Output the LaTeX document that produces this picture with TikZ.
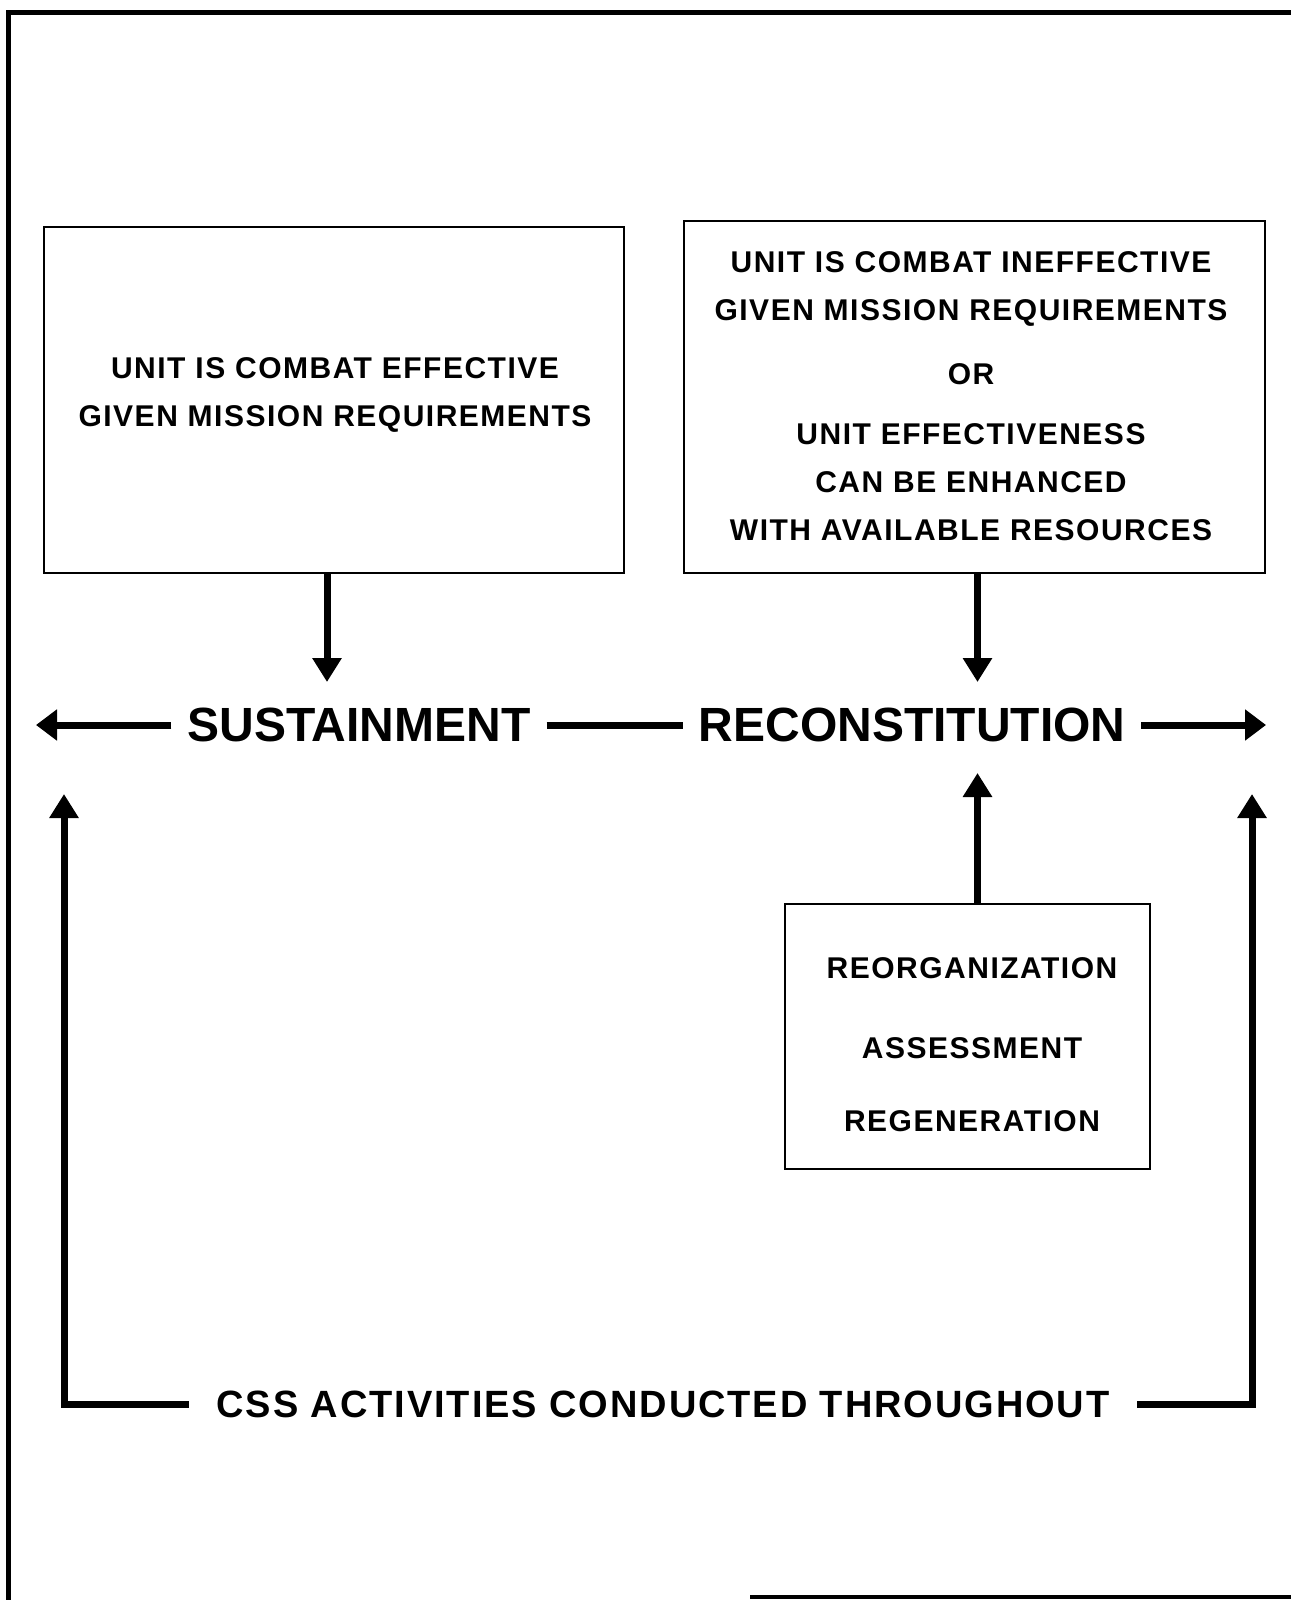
\documentclass[tikz,border=0pt]{standalone}
\usepackage{fontspec}
\setmainfont{Liberation Sans}
\newfontfamily\boxfont[LetterSpace=5]{Liberation Sans}
\usetikzlibrary{arrows.meta}

\tikzset{
  box/.style={draw, line width=2pt, inner sep=0pt, outer sep=0pt},
  boxtext/.style={font=\boxfont\bfseries\fontsize{30}{48}\selectfont, align=center, inner sep=0pt},
  bigword/.style={font=\bfseries\fontsize{48}{56}\selectfont, inner xsep=16pt, inner ysep=0pt, outer sep=0pt},
  csstext/.style={font=\boxfont\bfseries\fontsize{38}{44}\selectfont, inner xsep=28pt, inner ysep=0pt, outer sep=0pt},
  fat/.style={line width=7pt},
  fatarrow/.style={fat, -{Triangle[length=24pt,width=28pt]}}
}

\begin{document}
\begin{tikzpicture}[x=1pt,y=-1pt]
\useasboundingbox (0,0) rectangle (1291,1600);

% frame
\draw[line width=5pt] (8,1600)--(8,13)--(1291,13);
\draw[line width=4pt] (750,1597)--(1291,1597);

% boxes
\node[box, minimum width=580pt, minimum height=346pt] (effbox) at (334,400) {};
\node[boxtext] (efftext) at (335,395) {UNIT IS COMBAT EFFECTIVE\\GIVEN MISSION REQUIREMENTS};

\node[box, minimum width=581pt, minimum height=352pt] (inbox) at (974.5,397) {};
\node[boxtext] (intext) at (971,396) {UNIT IS COMBAT INEFFECTIVE\\GIVEN MISSION REQUIREMENTS\\[16pt]OR\\[12pt]UNIT EFFECTIVENESS\\CAN BE ENHANCED\\WITH AVAILABLE RESOURCES};

\node[box, minimum width=365pt, minimum height=265pt] (regbox) at (967.5,1036.5) {};
\node[boxtext] (regtext) at (972,1045) {REORGANIZATION\\[32pt]ASSESSMENT\\[25pt]REGENERATION};

% main line
\node[bigword] (sust) at (359,725) {SUSTAINMENT};
\node[bigword] (recon) at (912,725) {RECONSTITUTION};
\coordinate (leftend) at (36,725);
\coordinate (rightend) at (1266,725);

\draw[fat, -{Triangle[length=21pt,width=30pt]}] (sust.west)--(leftend);
\draw[fat] (sust.east)--(recon.west);
\draw[fat, -{Triangle[length=21pt,width=30pt]}] (recon.east)--(rightend);

% arrows into the line
\draw[fatarrow, shorten >=26pt] ([xshift=-7pt]effbox.south)--([xshift=-7pt]effbox.south |- sust.north);
\draw[fatarrow, shorten >=26pt] ([xshift=3pt]inbox.south)--([xshift=3pt]inbox.south |- recon.north);
\draw[fatarrow, shorten >=31pt] ([xshift=10pt]regbox.north)--([xshift=10pt]regbox.north |- recon.south);

% css bracket
\node[csstext] (css) at (663,1404) {CSS ACTIVITIES CONDUCTED THROUGHOUT};
\coordinate (csslefttip) at (64,794);
\coordinate (cssrighttip) at (1252,794);
\draw[fatarrow] (css.west)-|(csslefttip);
\draw[fatarrow] (css.east)-|(cssrighttip);

\end{tikzpicture}
\end{document}
